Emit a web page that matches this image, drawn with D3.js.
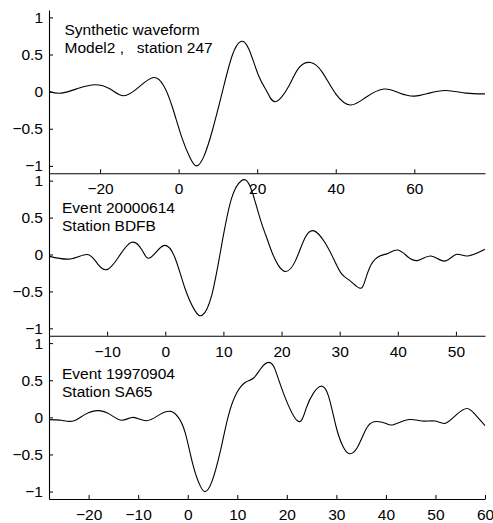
<!DOCTYPE html>
<html>
<head>
<meta charset="utf-8">
<script src="https://cdn.jsdelivr.net/npm/d3@7"></script>
<style>
  body { margin: 0; background: #fff; }
  text { font-family: "Liberation Sans", Arial, Helvetica, sans-serif; }
</style>
</head>
<body>
<svg id="chart" width="493" height="523"></svg>
<script>
// ---------------- data ----------------
// Panel 1: synthetic waveform (Model2, station 247)
const synthTime = [-33, -29.8, -25.5, -21.3, -17.4, -14.0, -10.2, -6.4, -3.8, -1.7, 0.9, 3.0, 4.6, 6.4, 8.5, 11.1, 13.6, 15.8, 17.9, 20.4, 22.5, 24.7, 28.1, 30.6, 33.6, 36.6, 40.0, 43.8, 47.7, 52.3, 56.2, 60.0, 63.8, 68.1, 73.2, 78];
const synthAmp  = [0.0, -0.02, 0.045, 0.093, 0.035, -0.055, 0.058, 0.19, 0.08, -0.19, -0.63, -0.90, -1.0, -0.875, -0.54, -0.01, 0.48, 0.675, 0.57, 0.21, 0.0, -0.135, 0.08, 0.32, 0.393, 0.26, -0.03, -0.18, -0.075, 0.035, -0.018, -0.06, -0.02, 0.015, -0.02, -0.03];

// Panel 2: event 20000614, station BDFB
const bdfbTime = [-19.9, -16.3, -13.4, -11.7, -10.0, -8.0, -5.8, -4.0, -2.6, -0.3, 1.7, 3.4, 5.1, 6.4, 8.0, 9.7, 11.4, 13.1, 14.6, 16.3, 17.3, 18.3, 19.4, 20.7, 22.3, 24.0, 25.6, 27.4, 28.9, 30.3, 31.7, 33.4, 34.3, 35.4, 36.9, 38.3, 40.0, 41.7, 43.5, 45.7, 48.0, 50.0, 52.0, 55];
const bdfbAmp  = [-0.025, -0.06, 0.0, -0.12, -0.205, -0.03, 0.165, 0.06, -0.045, 0.12, -0.05, -0.46, -0.76, -0.82, -0.55, 0.13, 0.76, 1.0, 0.92, 0.49, 0.26, 0.04, -0.14, -0.23, -0.10, 0.22, 0.32, 0.17, -0.05, -0.26, -0.35, -0.455, -0.37, -0.14, -0.02, 0.015, 0.06, -0.03, -0.08, -0.02, -0.09, 0.0, -0.02, 0.07];

// Panel 3: event 19970904, station SA65
const sa65Time = [-28, -25.5, -23.1, -20.7, -18.1, -15.7, -13.3, -11.0, -8.3, -5.6, -3.4, -1.9, -0.5, 1.1, 2.5, 3.5, 4.8, 6.5, 8.2, 9.9, 11.6, 13.3, 14.9, 16.4, 17.6, 19.3, 22.2, 23.9, 25.4, 26.9, 28.4, 30.0, 31.4, 32.6, 34.2, 35.9, 37.6, 39.9, 41.5, 44.6, 47.3, 50.0, 52.0, 54.3, 56.4, 58.0, 60];
const sa65Amp  = [-0.03, -0.04, -0.05, 0.04, 0.09, 0.04, -0.04, 0.0, -0.045, 0.04, 0.08, 0.0, -0.21, -0.65, -0.92, -1.0, -0.88, -0.48, 0.02, 0.33, 0.47, 0.53, 0.67, 0.74, 0.65, 0.33, -0.05, 0.12, 0.33, 0.42, 0.29, -0.14, -0.40, -0.49, -0.41, -0.17, -0.06, -0.08, -0.10, -0.03, -0.05, -0.05, -0.08, 0.04, 0.12, 0.04, -0.11];

// Tick values and labels
const yTicks = [-1, -0.5, 0, 0.5, 1];
const yTickLabels = ["\u22121", "\u22120.5", "0", "0.5", "1"];
const xTicks1 = [-20, 0, 20, 40, 60];
const xTicks2 = [-10, 0, 10, 20, 30, 40, 50];
const xTicks3 = [-20, -10, 0, 10, 20, 30, 40, 50, 60];

const labels1 = ["Synthetic waveform", "Model2 ,   station 247"];
const labels2 = ["Event 20000614", "Station BDFB"];
const labels3 = ["Event 19970904", "Station SA65"];

// ---------------- layout ----------------
const svg = d3.select("#chart");
const left = 49, right = 485;
const fontSize = 15.5;

const panels = [
  { time: synthTime, amp: synthAmp, xDomain: [-33, 78], xTicks: xTicks1, labels: labels1, top: 10, bottom: 173.3, textX: 64.5, textY: 35 },
  { time: bdfbTime, amp: bdfbAmp, xDomain: [-20, 55], xTicks: xTicks2, labels: labels2, top: 173.3, bottom: 335.7, textX: 62, textY: 213 },
  { time: sa65Time, amp: sa65Amp, xDomain: [-28, 60], xTicks: xTicks3, labels: labels3, top: 335.7, bottom: 499, textX: 62, textY: 379 }
];

const fmtMinus = d => d < 0 ? "\u2212" + Math.abs(d) : String(d);

panels.forEach(p => {
  const x = d3.scaleLinear().domain(p.xDomain).range([left, right]);
  const y = d3.scaleLinear().domain([-1.1, 1.1]).range([p.bottom, p.top]);
  const g = svg.append("g");

  // curve
  const pts = p.time.map((t, i) => [t, p.amp[i]]);
  const line = d3.line()
    .x(d => x(d[0]))
    .y(d => y(d[1]))
    .curve(d3.curveNatural);
  g.append("path")
    .datum(pts)
    .attr("d", line)
    .attr("fill", "none")
    .attr("stroke", "#000")
    .attr("stroke-width", 1.1)
    .attr("stroke-linejoin", "round");

  // x axis
  const xa = g.append("g")
    .attr("transform", `translate(0,${p.bottom})`)
    .call(d3.axisBottom(x).tickValues(p.xTicks).tickFormat(fmtMinus)
      .tickSizeInner(-4).tickSizeOuter(0).tickPadding(10));
  // y axis
  const ya = g.append("g")
    .attr("transform", `translate(${left},0)`)
    .call(d3.axisLeft(y).tickValues(yTicks).tickFormat((d, i) => yTickLabels[i])
      .tickSizeInner(-4).tickSizeOuter(0).tickPadding(6));

  [xa, ya].forEach(a => {
    a.selectAll("path.domain").attr("stroke", "#000").attr("stroke-width", 1.1);
    a.selectAll(".tick line").attr("stroke", "#000").attr("stroke-width", 1);
    a.selectAll(".tick text")
      .attr("fill", "#000")
      .style("font-size", fontSize + "px")
      .style("font-family", '"Liberation Sans", Arial, Helvetica, sans-serif');
  });

  // annotation
  p.labels.forEach((s, i) => {
    g.append("text")
      .attr("x", p.textX)
      .attr("y", p.textY + i * 18)
      .style("font-size", fontSize + "px")
      .style("white-space", "pre")
      .attr("fill", "#000")
      .text(s);
  });
});
</script>
</body>
</html>
